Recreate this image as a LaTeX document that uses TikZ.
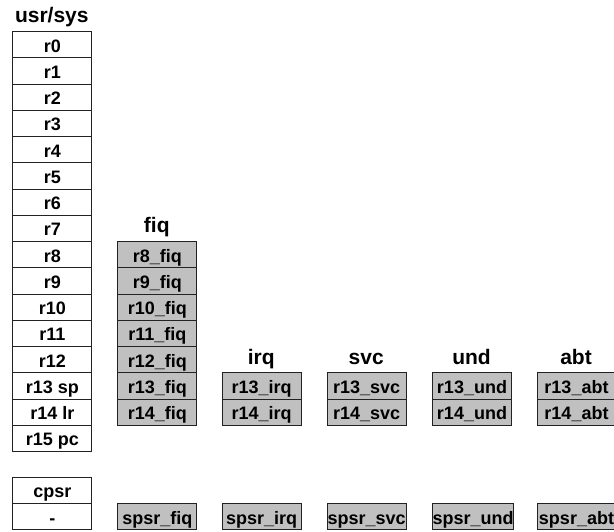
\documentclass[tikz,border=0pt]{standalone}
\usepackage{fontspec}
\setmainfont{Liberation Sans}
\definecolor{regfill}{HTML}{C0C0C0}
\definecolor{regline}{HTML}{222222}
\tikzset{
  reg/.style={draw=regline, line width=1pt, fill=white, anchor=north west,
    minimum width=79pt, minimum height=26.25pt, inner sep=0pt,
    text height=15pt, text depth=0pt,
    font=\fontsize{18}{20}\selectfont\bfseries},
  banked/.style={reg, fill=regfill, draw=regline},
  modetitle/.style={anchor=base, inner sep=0pt,
    font=\fontsize{21}{24}\selectfont\bfseries}
}
\begin{document}
\begin{tikzpicture}[x=1pt,y=-1pt]
\useasboundingbox (0,0) rectangle (614,531);
% usr/sys column
\node[modetitle] (tusr) at (51.8,22.7) {usr/sys};
\foreach \i/\t in {0/r0,1/r1,2/r2,3/r3,4/r4,5/r5,6/r6,7/r7,8/r8,9/r9,10/r10,11/r11,12/r12,13/r13 sp,14/r14 lr,15/r15 pc}{
  \node[reg] (u\i) at (12.3,31+26.25*\i) {\t};
}
\node[reg] (cpsr) at (12.3,476.8) {cpsr};
\node[reg] (cpsrv) at (12.3,503.05) {-};
% fiq column
\node[modetitle] (tfiq) at (156.8,232.7) {fiq};
\foreach \i in {8,...,14}{
  \node[banked] (f\i) at (117.3,31+26.25*\i) {r\i\_fiq};
}
\node[banked] (fspsr) at (117.3,503.05) {spsr\_fiq};
% other modes
\foreach \m/\x in {irq/221.7,svc/326.7,und/432,abt/536.5}{
  \node[modetitle] (t\m) at (\x+39.5,364.2) {\m};
  \node[banked] (\m13) at (\x,31+26.25*13) {r13\_\m};
  \node[banked] (\m14) at (\x,31+26.25*14) {r14\_\m};
  \node[banked] (\m spsr) at (\x,503.05) {spsr\_\m};
}
\end{tikzpicture}
\end{document}
